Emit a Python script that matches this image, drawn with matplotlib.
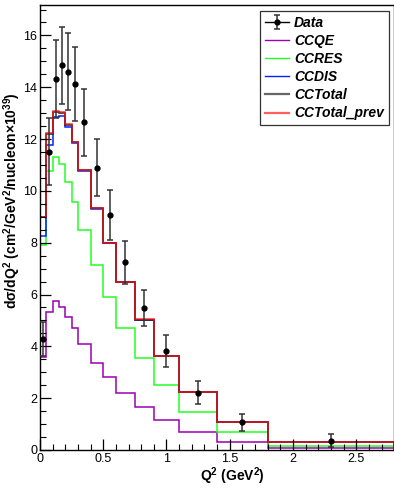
import numpy as np
import matplotlib
matplotlib.use("Agg")
import matplotlib.pyplot as plt
from matplotlib.lines import Line2D
from matplotlib.ticker import MultipleLocator

plt.rcParams['font.family'] = ['Liberation Sans', 'DejaVu Sans']
plt.rcParams['mathtext.fontset'] = 'custom'
plt.rcParams['mathtext.rm'] = 'Liberation Sans:bold'
plt.rcParams['mathtext.it'] = 'Liberation Sans:bold'
plt.rcParams['mathtext.bf'] = 'Liberation Sans:bold'
plt.rcParams['mathtext.default'] = 'rm'

# Q2 binning (GeV^2)
edges = [0, 0.05, 0.1, 0.15, 0.2, 0.25, 0.3, 0.4, 0.5, 0.6, 0.75, 0.9, 1.1, 1.4, 1.8, 2.8]

# predictions per bin
ccqe = [3.58, 5.34, 5.73, 5.53, 5.12, 4.70, 4.08, 3.37, 2.81, 2.21, 1.65, 1.16, 0.71, 0.32, 0.06]
ccres = [7.90, 10.78, 11.30, 11.03, 10.36, 9.59, 8.48, 7.12, 5.92, 4.70, 3.54, 2.51, 1.48, 0.68, 0.17]
ccdis = [8.27, 11.78, 12.84, 12.88, 12.46, 11.84, 10.78, 9.31, 7.98, 6.48, 5.02, 3.62, 2.23, 1.07, 0.31]
cctotal = [8.98, 12.20, 13.05, 13.02, 12.54, 11.88, 10.80, 9.32, 7.99, 6.49, 5.03, 3.63, 2.24, 1.08, 0.31]
cctotal_prev = [9.00, 12.25, 13.10, 13.06, 12.57, 11.90, 10.81, 9.33, 8.00, 6.50, 5.04, 3.64, 2.25, 1.09, 0.32]

# measured points
data_x = [0.025, 0.075, 0.125, 0.175, 0.225, 0.275, 0.35, 0.45, 0.55, 0.675, 0.825, 1.0, 1.25, 1.6, 2.3]
data_y = [4.27, 11.52, 14.32, 14.84, 14.60, 14.13, 12.64, 10.90, 9.07, 7.25, 5.47, 3.82, 2.21, 1.07, 0.36]
data_err = [0.65, 1.30, 1.50, 1.50, 1.48, 1.42, 1.28, 1.10, 0.97, 0.83, 0.70, 0.60, 0.45, 0.33, 0.24]

fig = plt.figure(figsize=(3.94, 4.88), dpi=100)
ax = fig.add_axes([0.1015, 0.078, 0.899, 0.912])

ax.stairs(ccqe, edges, color='#9a00b0', lw=1.1)
ax.stairs(ccres, edges, color='#22ff22', lw=1.1)
ax.stairs(ccdis, edges, color='#0022ff', lw=1.1)
ax.stairs(cctotal, edges, color='#222222', lw=1.1)
ax.stairs(cctotal_prev, edges, color='#ff1010', lw=1.1, alpha=0.85)
eb = ax.errorbar(data_x, data_y, yerr=data_err, fmt='o', color='black', ms=3.5,
                 ecolor='#333333', elinewidth=1.1, capsize=2.5, capthick=1.1, zorder=5)

ax.set_xlim(0, 2.8)
ax.set_ylim(0, 17.18)
ax.xaxis.set_major_locator(MultipleLocator(0.5))
ax.xaxis.set_minor_locator(MultipleLocator(0.1))
ax.yaxis.set_major_locator(MultipleLocator(2))
ax.yaxis.set_minor_locator(MultipleLocator(0.5))
ax.tick_params(which='both', direction='in', top=False, right=False, labelsize=9, pad=2)
ax.tick_params(which='major', length=8, width=0.9)
ax.tick_params(which='minor', length=4, width=0.8)
ax.xaxis.set_major_formatter(plt.FuncFormatter(lambda v, p: f'{v:g}'))
for s in ax.spines.values():
    s.set_linewidth(1.0)

fig.text(0.589, 0.024, r'$Q^{2}$ $(GeV^{2})$', ha='center', va='center', fontsize=10)
fig.text(0.03, 0.59, r'$d\sigma/dQ^{2}$ $(cm^{2}/GeV^{2}/nucleon{\times}10^{39})$',
         ha='center', va='center', rotation=90, fontsize=10)

hline = Line2D([], [], color='black', lw=1.0)
handles = [(hline, eb),
           Line2D([], [], color='#9a00b0', lw=1.0),
           Line2D([], [], color='#22ff22', lw=1.0),
           Line2D([], [], color='#0022ff', lw=1.0),
           Line2D([], [], color='#666666', lw=1.6),
           Line2D([], [], color='#ff6060', lw=1.6)]
labels = ['Data', 'CCQE', 'CCRES', 'CCDIS', 'CCTotal', 'CCTotal_prev']
leg = fig.legend(handles, labels, loc='upper left', bbox_to_anchor=(0.66, 0.978),
                 prop={'weight': 'bold', 'style': 'italic', 'size': 10},
                 frameon=True, fancybox=False, edgecolor='black', handlelength=1.7,
                 handletextpad=0.4, labelspacing=0.3, borderpad=0.35, borderaxespad=0)
leg.get_frame().set_linewidth(0.9)

fig.savefig('out.png', dpi=100)
